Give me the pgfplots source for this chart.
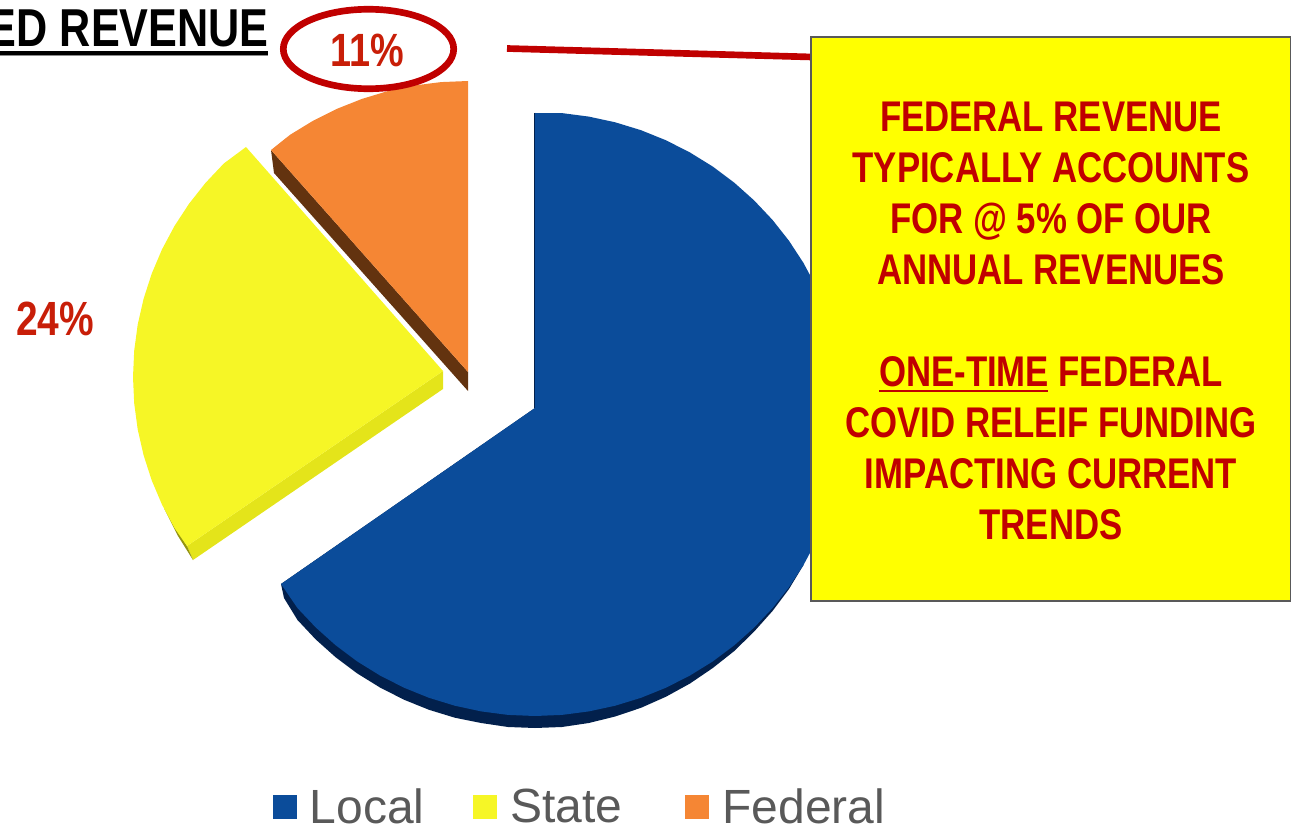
\documentclass[border=0pt]{standalone}
\usepackage{fontspec}
\setmainfont{Liberation Sans}
\newfontfamily\narrow[FakeStretch=0.81]{Liberation Sans}
\usepackage{pgfplots}
\pgfplotsset{compat=1.18}

\definecolor{localblue}{HTML}{0B4C9A}
\definecolor{localside}{HTML}{02204C}
\definecolor{stateyellow}{HTML}{F6F626}
\definecolor{stateside}{HTML}{E4E41A}
\definecolor{fedorange}{HTML}{F58634}
\definecolor{fedside}{HTML}{63330F}
\definecolor{boxred}{HTML}{C00000}
\definecolor{boxyellow}{HTML}{FFFF00}
\definecolor{labelred}{HTML}{C81E08}
\definecolor{legendgrey}{HTML}{595959}

\begin{document}
\begin{tikzpicture}
\path[use as bounding box] (0,0) rectangle (968.25pt,623.25pt);
\clip (0,0) rectangle (968.25pt,623.25pt);

% coordinates are the reference's pixels, y running down
\begin{axis}[
	at={(0,0)},
	anchor=south west,
	width=968.25pt,
	height=623.25pt,
	scale only axis,
	xmin=0, xmax=1291,
	ymin=0, ymax=831,
	y dir=reverse,
	axis lines=none,
	clip=false,
	legend columns=3,
	legend cell align=left,
	legend image code/.code={\fill[#1] (0pt,-9pt) rectangle (18pt,9pt);},
	legend style={
		at={(0.2115,0.004)},
		anchor=south west,
		draw=none,
		fill=none,
		inner sep=0pt,
		outer sep=0pt,
		font=\fontsize{36}{39}\selectfont\color{legendgrey},
		/tikz/column 1/.style={column sep=7.5pt},
		/tikz/column 2/.style={column sep=34.5pt},
		/tikz/column 3/.style={column sep=8pt},
		/tikz/column 4/.style={column sep=45pt},
		/tikz/column 5/.style={column sep=8pt},
	},
]

	% side walls first, the faces go over them
	\addplot[fill=localside, draw=none, forget plot] coordinates {
	(535,408) (803.5,565) (789,589) (772.5,611) (754.2,631.5) (734.3,651) (712.8,668)
	(690,683.5) (666,696.7) (641,707.8) (615.2,716.5) (588.8,723) (562,727) (535,728)
	(508,727) (481.2,723) (454.8,717.7) (429,709.8) (404,699.7) (380,687.5) (357.2,673.4)
	(335.7,657.3) (315.8,639.5) (297.5,620) (284,598) (281,584)
	};
	\addplot[draw=localside, line width=1pt, forget plot] coordinates {(534.5,113) (534.5,408)};
	\addplot[fill=stateside, draw=none, forget plot] coordinates {
	(443,371) (443,389) (193,560) (187,546)
	};
	\addplot[fill=black!35!stateside, draw=none, forget plot] coordinates {
	(164,508) (187,546) (193,560) (178,536)
	};
	\addplot[fill=fedside, draw=none, forget plot] coordinates {
	(271,150) (274,173) (468,391) (468,372)
	};

	% Local
	\addplot[fill=localblue, draw=none] coordinates {
	(535,408) (535,113) (562,113.1) (588.8,116.6) (615.2,122.3) (641,130.2) (666,140.3)
	(690,152.5) (712.8,166.6) (734.3,182.7) (754.2,200.5) (772.5,219.9) (789,240.8)
	(803.5,263) (816,286.4) (826.3,310.7) (834.4,335.8) (840.3,361.6) (843.8,387.7)
	(845,414) (843.8,440.3) (840.3,466.4) (834.4,492.2) (826.3,517.3) (816,541.6)
	(803.5,565) (789,587.2) (772.5,608.1) (754.2,627.5) (734.3,645.3) (712.8,661.4)
	(690,675.5) (666,687.7) (641,697.8) (615.2,705.7) (588.8,711.4) (562,714.9)
	(535,716) (508,714.9) (481.2,711.4) (454.8,705.7) (429,697.8) (404,687.7)
	(380,675.5) (357.2,661.4) (335.7,645.3) (315.8,627.5) (297.5,608.1) (281,584)
	};
	\addlegendentry{Local}

	% State
	\addplot[fill=stateyellow, draw=none] coordinates {
	(443,371) (187,546) (174.5,528) (162,504.6) (151.7,480.3) (143.6,455.2) (137.7,429.4)
	(134.2,403.3) (133,377) (134.2,350.7) (137.7,324.6) (143.6,298.8) (151.7,273.7)
	(162,249.4) (174.5,226) (189,203.8) (205.5,182.9) (223.8,163.5) (246,147)
	};
	\addlegendentry{State}

	% Federal
	\addplot[fill=fedorange, draw=none] coordinates {
	(468,372) (271,150) (290.2,134.7) (313,120.8) (337,108.8) (362,98.9) (387.8,91.1)
	(414.2,85.5) (441,82.1) (468,81)
	};
	\addlegendentry{Federal}

	% title, cut by the picture's left edge
	\node[anchor=base east, inner sep=0pt, text=black,
		font=\narrow\bfseries\fontsize{40}{44}\selectfont] at (axis cs:269,47) {ED REVENUE};
	\draw[black!45, line width=1.5pt] (axis cs:0,55.5) -- (axis cs:268,55.5);
	\draw[black, line width=3pt] (axis cs:0,53) -- (axis cs:268,53);

	% leader from the ring to the box
	\addplot[draw=boxred, line width=5pt, forget plot] coordinates {(507,48.5) (812,57)};

	\draw[boxred, line width=5pt] (axis cs:368.5,49) ellipse [x radius=63.9pt, y radius=29.8pt];
	\node[anchor=base, inner sep=0pt, text=labelred,
		font=\narrow\bfseries\fontsize{35}{38}\selectfont] at (axis cs:367,67) {11\%};
	\node[anchor=base west, inner sep=0pt, text=labelred,
		font=\narrow\bfseries\fontsize{36}{39}\selectfont] at (axis cs:16,335) {24\%};

	% call-out box
	\draw[draw=legendgrey, fill=boxyellow, line width=1.5pt] (axis cs:810.5,37.5) rectangle (axis cs:1290.5,600.5);
	\node[align=center, inner sep=0pt, text=boxred,
		font=\narrow\bfseries\fontsize{32.2}{38.25}\selectfont] at (axis cs:1051,320.5) {%
		FEDERAL REVENUE\\
		TYPICALLY ACCOUNTS\\
		FOR @ 5\% OF OUR\\
		ANNUAL REVENUES\\
		\mbox{}\\
		ONE-TIME FEDERAL\\
		COVID RELEIF FUNDING\\
		IMPACTING CURRENT\\
		TRENDS};
	\draw[boxred, line width=2.2pt] (axis cs:879,391) -- (axis cs:1048,391);

\end{axis}
\end{tikzpicture}
\end{document}
